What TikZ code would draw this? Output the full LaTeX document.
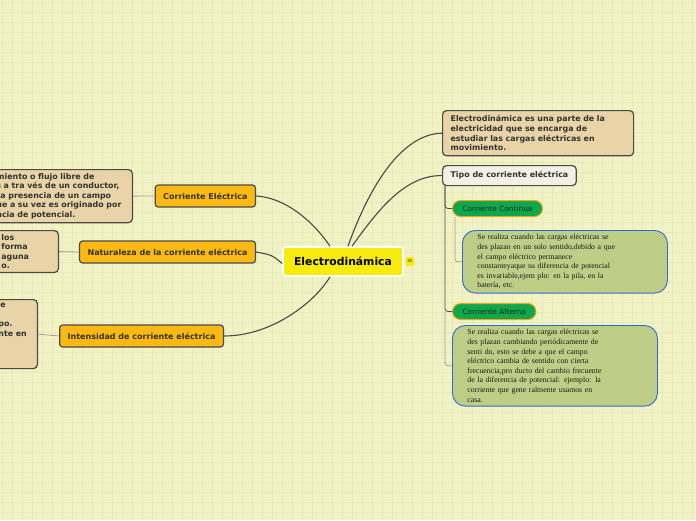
\documentclass[tikz,border=0pt]{standalone}
\usepackage{fontspec}
\setmainfont{DejaVu Sans}
\newfontfamily\notefont{Liberation Serif}
\usetikzlibrary{positioning}

\definecolor{paper}{HTML}{F1F3C4}
\definecolor{gridline}{HTML}{E7E9B9}
\definecolor{tan}{HTML}{E9D4A7}
\definecolor{edgegray}{HTML}{4A4A4A}
\definecolor{orangebox}{HTML}{FDB913}
\definecolor{hubyellow}{HTML}{F6EA0F}
\definecolor{leafgreen}{HTML}{0CA84B}
\definecolor{leafrim}{HTML}{F5A31E}
\definecolor{notegreen}{HTML}{BFCE86}
\definecolor{noteblue}{HTML}{2E6BD6}
\definecolor{offwhite}{HTML}{F3F1E6}

\tikzset{
  hub/.style={draw=white, line width=1.6pt, rounded corners=3pt, fill=hubyellow,
    font=\bfseries\fontsize{10.8}{12}\selectfont, text=black,
    minimum width=120pt, minimum height=29pt},
  topic/.style={draw=edgegray, line width=1.2pt, rounded corners=3pt, fill=orangebox,
    font=\bfseries\fontsize{8}{9}\selectfont, text=black!80,
    inner xsep=8pt, minimum height=22pt},
  textbox/.style={draw=edgegray, line width=1.2pt, rounded corners=4pt, fill=tan,
    font=\bfseries\fontsize{7.9}{9.6}\selectfont, text=black!80, align=left,
    inner xsep=8pt, inner ysep=5pt},
  leaf/.style={draw=leafrim, line width=1pt, rounded corners=8pt, fill=leafgreen,
    font=\fontsize{7.4}{8}\selectfont, text=black!85,
    inner xsep=10pt, minimum height=16pt},
  note/.style={draw=noteblue, line width=0.9pt, rounded corners=13pt, fill=notegreen,
    font=\notefont\fontsize{7.8}{9.6}\selectfont, text=black!90, align=left,
    inner xsep=15pt, inner ysep=4pt, text width=175pt},
  link/.style={edgegray, line width=1.1pt},
  trunk/.style={edgegray, line width=0.8pt, rounded corners=3pt},
  twig/.style={gray!75, line width=0.8pt, rounded corners=3pt}
}

\begin{document}
\begin{tikzpicture}[x=1pt, y=-1pt]
  % paper and grid
  \useasboundingbox (0,0) rectangle (696,520);
  \fill[paper] (0,0) rectangle (696,520);
  \foreach \k in {0,...,69} \draw[gridline, line width=0.6pt] (2+10*\k,0) -- (2+10*\k,520);
  \foreach \k in {0,...,51} \draw[gridline, line width=0.6pt] (0,2+10*\k) -- (696,2+10*\k);

  % central topic
  \node[hub] (hub) at (343,261.5) {Electrodinámica};
  \node[fill=hubyellow, inner sep=0pt, minimum width=8pt, minimum height=9pt,
        font=\fontsize{6}{6}\selectfont] (menu) at (410,261) {$\equiv$};

  % right side
  \node[textbox, anchor=north west, text width=175pt] (def) at (442,110)
    {Electrodinámica es una parte de la\\ electricidad que se encarga de\\
     estudiar las cargas eléctricas en\\ movimiento.};
  \node[textbox, fill=offwhite, anchor=north west, minimum height=20pt, inner ysep=3pt] (tipo) at (442,165)
    {Tipo de corriente eléctrica};
  \node[leaf, anchor=north west] (cc) at (452,200) {Corriente Continua};
  \node[note, anchor=north west] (ccnote) at (462,230)
    {Se realiza cuando las cargas eléctricas se\\ des plazan en un solo sentido,debido a que\\
     el campo eléctrico permanece\\ constanteyaque su diferencia de potencial\\
     es invariable,ejem plo: en la pila, en la\\ batería, etc.};
  \node[leaf, anchor=north west] (ca) at (452,303) {Corriente Alterna};
  \node[note, anchor=north west] (canote) at (452,325)
    {Se realiza cuando las cargas eléctricas se\\ des plazan cambiando periódicamente de\\
     senti do, esto se debe a que el campo\\ eléctrico cambia de sentido con cierta\\
     frecuencia,pro ducto del cambio frecuente\\ de la diferencia de potencial: ejemplo: la\\
     corriente que gene ralmente usamos en\\ casa.};

  % left side
  \node[topic, anchor=east] (ce) at (256,196) {Corriente Eléctrica};
  \node[topic, anchor=east] (nat) at (256,252) {Naturaleza de la corriente eléctrica};
  \node[topic, anchor=east] (inten) at (224,336) {Intensidad de corriente eléctrica};

  \node[textbox, anchor=north east, inner xsep=6pt, inner ysep=3.5pt, text width=130pt] (cedef) at (133,169)
    {miento o flujo libre de\\ s a tra vés de un conductor,\\ \hspace*{4pt}a presencia de un campo\\
     ue a su vez es originado por\\ ncia de potencial.};
  \node[textbox, anchor=north east, inner xsep=6pt, inner ysep=3.5pt, text width=51pt] (natdef) at (59,230)
    {los\\ forma\\ aguna\\ o.};
  \node[textbox, anchor=north east, inner xsep=6pt, inner ysep=3.5pt, text width=33pt] (intdef) at (38,299)
    {\hspace*{2pt}e\\ \mbox{}\\ po.\\ nte en\\ \mbox{}\\ \mbox{}\\ \mbox{}};

  % connectors from the centre
  \draw[link] ([xshift=-13pt]hub.north) .. controls (318,228) and (290,198) .. (ce.east);
  \draw[link] ([yshift=-2pt]hub.west) .. controls (272,255) .. (nat.east);
  \draw[link] ([xshift=-13pt]hub.south) .. controls (315,302) and (272,336) .. (inten.east);
  \draw[link] ([xshift=5pt]hub.north) .. controls (368,190) and (400,134) .. (def.west);
  \draw[link] ([xshift=9pt]hub.north) .. controls (378,210) and (405,175) .. (tipo.west);

  % sub-branches
  \draw[trunk] ([xshift=3pt]tipo.south west) |- (cc.west);
  \draw[trunk] ([xshift=3pt]tipo.south west) |- (ca.west);
  \draw[twig] ([xshift=3pt]cc.south west) |- (ccnote.west);
  \draw[twig] ([xshift=-7pt]ca.west) |- (canote.west);
  \draw[twig] (ce.west) -- (cedef.east);
  \draw[twig] (nat.west) -- (natdef.east);
  \draw[twig] (inten.west) -- (intdef.east);
\end{tikzpicture}
\end{document}
